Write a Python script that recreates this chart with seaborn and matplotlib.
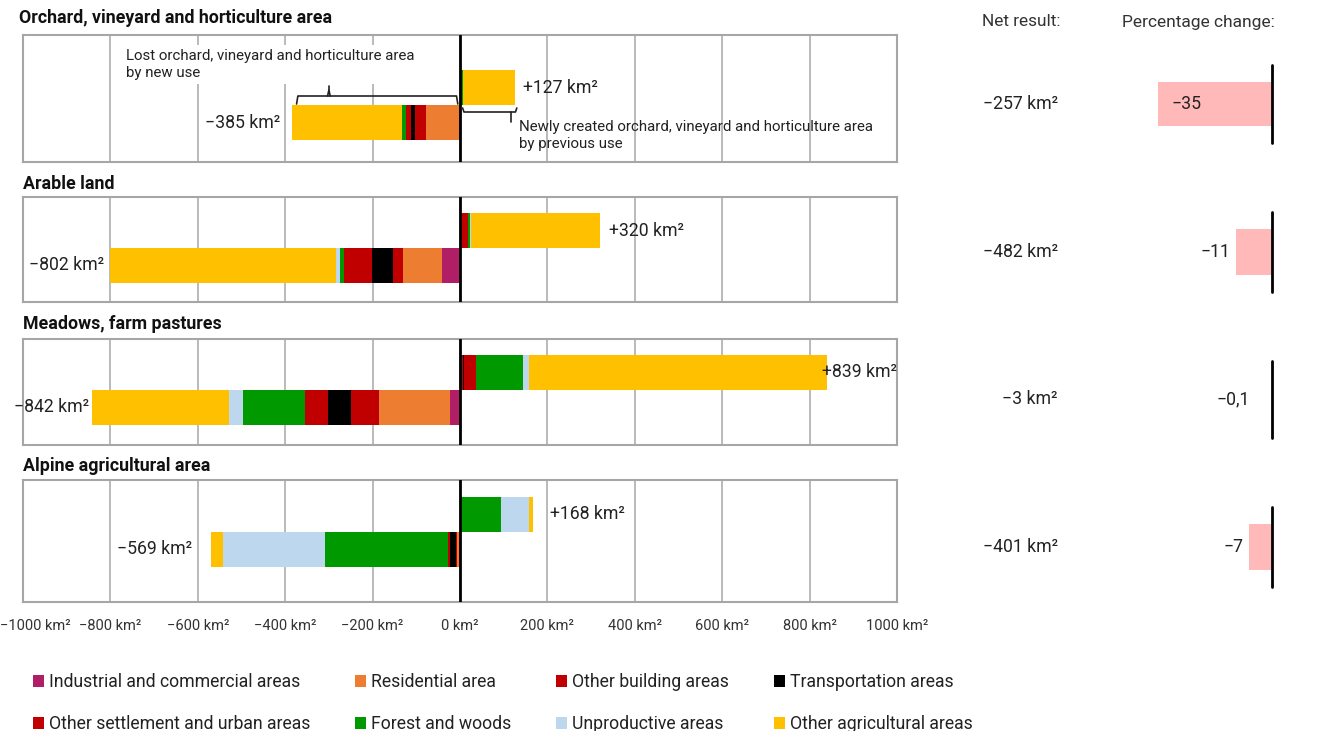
import numpy as np
import pandas as pd
import matplotlib.pyplot as plt
from matplotlib.patches import Patch
from matplotlib.transforms import ScaledTranslation
import seaborn as sns

# ── data ─────────────────────────────────────────────────────
categories = ['Industrial and commercial areas', 'Residential area', 'Other building areas',
              'Transportation areas', 'Other settlement and urban areas', 'Forest and woods',
              'Unproductive areas', 'Other agricultural areas']
colors = ['#B01F65', '#ED7D31', '#C00000', '#000000', '#C00000', '#009900', '#BDD7EE', '#FFC000']

panels = ['Orchard, vineyard and horticulture area', 'Arable land',
          'Meadows, farm pastures', 'Alpine agricultural area']

# km² lost / gained per new (or previous) use, ordered from the zero line outwards
lost = [
    [3, 74, 27, 8, 11, 10, 0, 252],
    [42, 88, 24, 48, 63, 10, 9, 518],
    [24, 162, 63, 52, 54, 142, 31, 314],
    [2, 5, 3, 13, 4, 281, 234, 27],
]
gained = [
    [0, 0, 0, 0, 0, 8, 0, 119],
    [0, 0, 6, 0, 12, 5, 3, 294],
    [0, 0, 6, 4, 27, 108, 14, 680],
    [0, 0, 0, 0, 0, 94, 63, 11],
]
net = [-257, -482, -3, -401]
pct = [-35, -11, -0.1, -7]
pct_labels = ['−35', '−11', '−0,1', '−7']

xticks = [-1000, -800, -600, -400, -200, 0, 200, 400, 600, 800, 1000]
xtick_labels = [f"{'−' if t < 0 else ''}{abs(t)} km²" for t in xticks]

# ── style ────────────────────────────────────────────────────
sns.set_theme(style='white')
plt.rcParams['font.family'] = ['Roboto', 'DejaVu Sans']
plt.rcParams['text.color'] = '#222222'
FS = 12.7

W, H = 1330, 731
fig = plt.figure(figsize=(W / 100, H / 100), dpi=100)

def px_axes(x0, y0, x1, y1):
    return fig.add_axes([x0 / W, 1 - y1 / H, (x1 - x0) / W, (y1 - y0) / H])

palette = dict(zip(categories, colors))
boxes = [(35, 162), (197, 302), (339, 445), (480, 602)]
gained_centers = [88, 230.5, 372, 514]
title_x = [19, 23, 23, 23]
title_y = [18, 184, 324, 466]
lost_gap = [12, 5, 3, 19]
gain_gap = [8, 9, -5, 17]
pct_boxes = [(65, 143), (212, 292), (361, 438), (507, 587)]
pct_offset = [(14, 'left'), (-6, 'right'), (-22, 'right'), (-6, 'right')]
BAR_PX = 35

for i, name in enumerate(panels):
    top, bot = boxes[i]
    ax = px_axes(23, top, 897, bot)

    rows = []
    for side, vals, sign in (('gained', gained[i], 1), ('lost', lost[i], -1)):
        for cat, c in zip(categories, np.cumsum(vals) * sign):
            rows.append({'side': side, 'category': cat, 'cum': c})
    df = pd.DataFrame(rows)

    sns.barplot(data=df, x='cum', y='side', hue='category', order=['gained', 'lost'],
                hue_order=categories[::-1], palette=palette, dodge=False, width=1,
                saturation=1, errorbar=None, legend=False, linewidth=0, ax=ax)

    ytop = -(gained_centers[i] - top) / BAR_PX
    ax.set_ylim(ytop + (bot - top) / BAR_PX, ytop)
    ax.set_xlim(-1000, 1000)
    ax.set_xticks(xticks)
    ax.set_axisbelow(True)
    ax.grid(axis='x', color='#b4b4b4', lw=1.3)
    ax.grid(axis='y', visible=False)
    ax.axvline(0, color='black', lw=2, zorder=10)
    ax.set_xlabel('')
    ax.set_ylabel('')
    ax.tick_params(left=False, labelleft=False, bottom=False, length=0)
    for s in ax.spines.values():
        s.set_color('#a6a6a6')
        s.set_linewidth(1.5)
    if i == len(panels) - 1:
        ax.tick_params(axis='x', pad=12)
        ax.set_xticklabels(xtick_labels, fontsize=10.5, color='#333333')
        # the leftmost label starts at the figure edge
        first = ax.get_xticklabels()[0]
        first.set_horizontalalignment('left')
        first.set_transform(first.get_transform() + ScaledTranslation(-0.225, 0, fig.dpi_scale_trans))
    else:
        ax.tick_params(labelbottom=False)

    lt, gt = -sum(lost[i]), sum(gained[i])
    ax.annotate(f'−{abs(lt)} km²', xy=(lt, 1), xytext=(-lost_gap[i] * 0.72, 0),
                textcoords='offset points', ha='right', va='center', fontsize=FS)
    ax.annotate(f'+{gt} km²', xy=(gt, 0), xytext=(gain_gap[i] * 0.72, 0),
                textcoords='offset points', ha='left', va='center', fontsize=FS, zorder=12)

    fig.text(title_x[i] / W, 1 - title_y[i] / H, name, fontsize=12.8, fontweight='bold',
             va='center', ha='left', color='#111111')

    # percentage change panel
    pt, pb = pct_boxes[i]
    pax = px_axes(1100, pt, 1272, pb)
    sns.barplot(x=[pct[i]], y=[''], color='#FFB9B9', width=44 / 78, errorbar=None,
                saturation=1, linewidth=0, ax=pax)
    pax.set_xlim(-172 / 3.26, 0)
    pax.set_ylim(0.5, -0.5)
    pax.axvline(0, color='black', lw=2, clip_on=False)
    pax.axis('off')
    off, ha = pct_offset[i]
    pax.annotate(pct_labels[i], xy=(pct[i], 0), xytext=(off * 0.72, 0), textcoords='offset points',
                 ha=ha, va='center', fontsize=FS)

    yc = (pt + pb) / 2
    fig.text(1058 / W, 1 - yc / H, f'−{abs(net[i])} km²', ha='right', va='center', fontsize=FS)

    # brackets + notes on the first panel
    if i == 0:
        def ypx(p):
            return ytop + (p - top) / BAR_PX
        x0, x1, xm = lt + 11, -5, lt + 85
        ax.plot([x0, x0 + 3, x1 - 3, x1], [ypx(104), ypx(96), ypx(96), ypx(104)],
                color='#222222', lw=1.2, solid_joinstyle='round')
        ax.plot([xm - 3, xm, xm + 3], [ypx(96), ypx(90), ypx(96)], color='#222222', lw=1.2)
        ax.plot([xm, xm], [ypx(90), ypx(86)], color='#222222', lw=1.2)
        g0, g1, gm = 6, gt + 3, gt - 10
        ax.plot([g0, g0 + 3, g1 - 3, g1], [ypx(108), ypx(112), ypx(112), ypx(108)],
                color='#222222', lw=1.2, solid_joinstyle='round')
        ax.plot([gm, gm], [ypx(112), ypx(122)], color='#222222', lw=1.2)
        ax.text(-765, ypx(49), 'Lost orchard, vineyard and horticulture area\nby new use',
                ha='left', va='top', fontsize=10.8, linespacing=1.25, zorder=5,
                bbox=dict(fc='white', ec='none', pad=3))
        ax.text(135, ypx(120), 'Newly created orchard, vineyard and horticulture area\nby previous use',
                ha='left', va='top', fontsize=10.8, linespacing=1.25, zorder=5)

fig.text(1060 / W, 1 - 22 / H, 'Net result:', ha='right', va='center', fontsize=12.4, color='#333333')
fig.text(1275 / W, 1 - 22 / H, 'Percentage change:', ha='right', va='center', fontsize=12.5,
         color='#333333')

# legend, filled column by column
order = [0, 4, 1, 5, 2, 6, 3, 7]
handles = [Patch(facecolor=colors[k], edgecolor='none', label=categories[k]) for k in order]
fig.legend(handles=handles, ncol=4, loc='upper left', bbox_to_anchor=(33 / W, 1 - 673 / H),
           frameon=False, fontsize=FS, handlelength=0.63, handleheight=0.63, handletextpad=0.25,
           columnspacing=2.57, labelspacing=1.38, borderaxespad=0, borderpad=0)

fig.savefig('out.png', dpi=100)
